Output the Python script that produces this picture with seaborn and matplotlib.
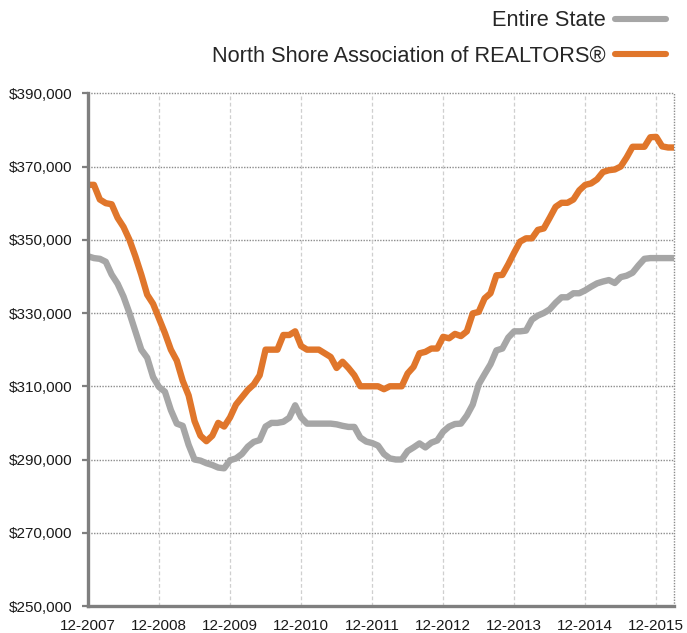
import numpy as np
import pandas as pd
import matplotlib
matplotlib.use("Agg")
import matplotlib.pyplot as plt
import seaborn as sns
from matplotlib.lines import Line2D

# Month index 0 = 12-2007 ... 99 = 03-2016
tick_labels = ["12-2007", "12-2008", "12-2009", "12-2010", "12-2011",
               "12-2012", "12-2013", "12-2014", "12-2015"]
series_names = ["Entire State", "North Shore Association of REALTORS®"]

entire_state = [
    345500, 345000, 344800, 344000, 340500, 338000, 334500, 330000, 325000, 320000,
    317800, 312500, 309800, 308500, 303500, 299800, 299200, 294000, 290000, 289700,
    289000, 288500, 287800, 287600, 289800, 290300, 291500, 293500, 294800, 295300,
    299000, 300000, 300000, 300300, 301400, 304800, 301500, 299800, 299800, 299800,
    299800, 299800, 299600, 299200, 298900, 298900, 296000, 294900, 294500, 293800,
    291500, 290300, 290000, 290000, 292300, 293300, 294400, 293300, 294600, 295200,
    297600, 299000, 299700, 299800, 302000, 305000, 310500, 313300, 316000, 319800,
    320300, 323300, 325000, 325000, 325200, 328200, 329300, 330000, 331000, 332800,
    334300, 334300, 335400, 335400, 336200, 337200, 338100, 338600, 339000, 338200,
    339800, 340200, 341000, 343000, 344800, 345000, 345000, 345000, 345000, 345000,
]

north_shore = [
    365000, 365000, 361000, 360000, 359700, 356000, 353500, 350000, 345500, 340500,
    335000, 332500, 328500, 324500, 320000, 317000, 311500, 307500, 300500, 296500,
    295000, 296500, 300000, 299000, 301500, 305000, 307000, 309000, 310500, 313000,
    320000, 320000, 320000, 324000, 324000, 325000, 321000, 320000, 320000, 320000,
    319000, 318000, 315000, 316700, 315000, 313000, 310000, 310000, 310000, 310000,
    309200, 310000, 310000, 310000, 313500, 315300, 319000, 319400, 320300, 320300,
    323500, 323100, 324300, 323700, 325000, 329900, 330300, 334000, 335400, 340300,
    340400, 343300, 346500, 349500, 350400, 350400, 352700, 353100, 356000, 359000,
    360100, 360100, 361000, 363500, 365000, 365400, 366500, 368500, 369000, 369200,
    370000, 372500, 375400, 375400, 375400, 378000, 378100, 375500, 375200, 375200,
]

months = list(range(len(entire_state)))
y_ticks = list(range(250000, 390001, 20000))

df = pd.DataFrame({
    "month": months * 2,
    "price": entire_state + north_shore,
    "series": [series_names[0]] * len(months) + [series_names[1]] * len(months),
})

sns.set_style("white")
plt.rcParams["font.family"] = ["Liberation Sans", "DejaVu Sans"]

fig = plt.figure(figsize=(6.87, 6.33), dpi=100)
ax = fig.add_axes([88 / 687, 27 / 633, (674 - 88) / 687, (606 - 93.3) / 633])

palette = {series_names[0]: "#A6A6A6", series_names[1]: "#E0762B"}
sns.lineplot(data=df, x="month", y="price", hue="series", hue_order=series_names[::-1],
             palette=palette, linewidth=4.6, ax=ax, legend=False,
             solid_joinstyle="round", solid_capstyle="butt")

ax.set_xlim(0, len(months) - 1)
ax.set_ylim(250000, 390000)
ax.set_xticks(range(0, 97, 12))
ax.set_xticklabels(tick_labels)
ax.set_yticks(y_ticks)
ax.set_yticklabels([f"${v:,}" for v in y_ticks])
ax.set_xlabel("")
ax.set_ylabel("")

# grid
for v in y_ticks[1:]:
    ax.axhline(v, color="#8C8C8C", lw=1.0, ls=(0, (1, 1)), zorder=0.5, clip_on=False)
for m in range(12, 97, 12):
    ax.axvline(m, color="#CFCFCF", lw=0.9, ls=(0, (3, 2)), zorder=0.5)
ax.axvline(len(months) - 1, color="#8C8C8C", lw=1.0, ls=(0, (1, 1)), zorder=0.5, clip_on=False)

for s in ["top", "right"]:
    ax.spines[s].set_visible(False)
for s in ["left", "bottom"]:
    ax.spines[s].set_color("#7F7F7F")
    ax.spines[s].set_linewidth(2.4)

ax.tick_params(axis="y", which="both", left=True, length=4, width=1.6, color="#7F7F7F",
               pad=7, labelsize=11, labelcolor="#1a1a1a")
ax.tick_params(axis="x", which="both", bottom=False, length=0, pad=9, labelsize=11,
               labelcolor="#1a1a1a")

# legend
handles = [Line2D([0], [0], color=palette[n], lw=4.4, solid_capstyle="round") for n in series_names]
fig.legend(handles, series_names, loc="upper right", bbox_to_anchor=(665.5 / 687, 1 - 10.5 / 633),
           bbox_transform=fig.transFigure, frameon=False, markerfirst=False, fontsize=15.7,
           handlelength=2.32, handletextpad=0.41, labelspacing=0.64, borderpad=0,
           borderaxespad=0)

fig.savefig("out.png", dpi=100)
